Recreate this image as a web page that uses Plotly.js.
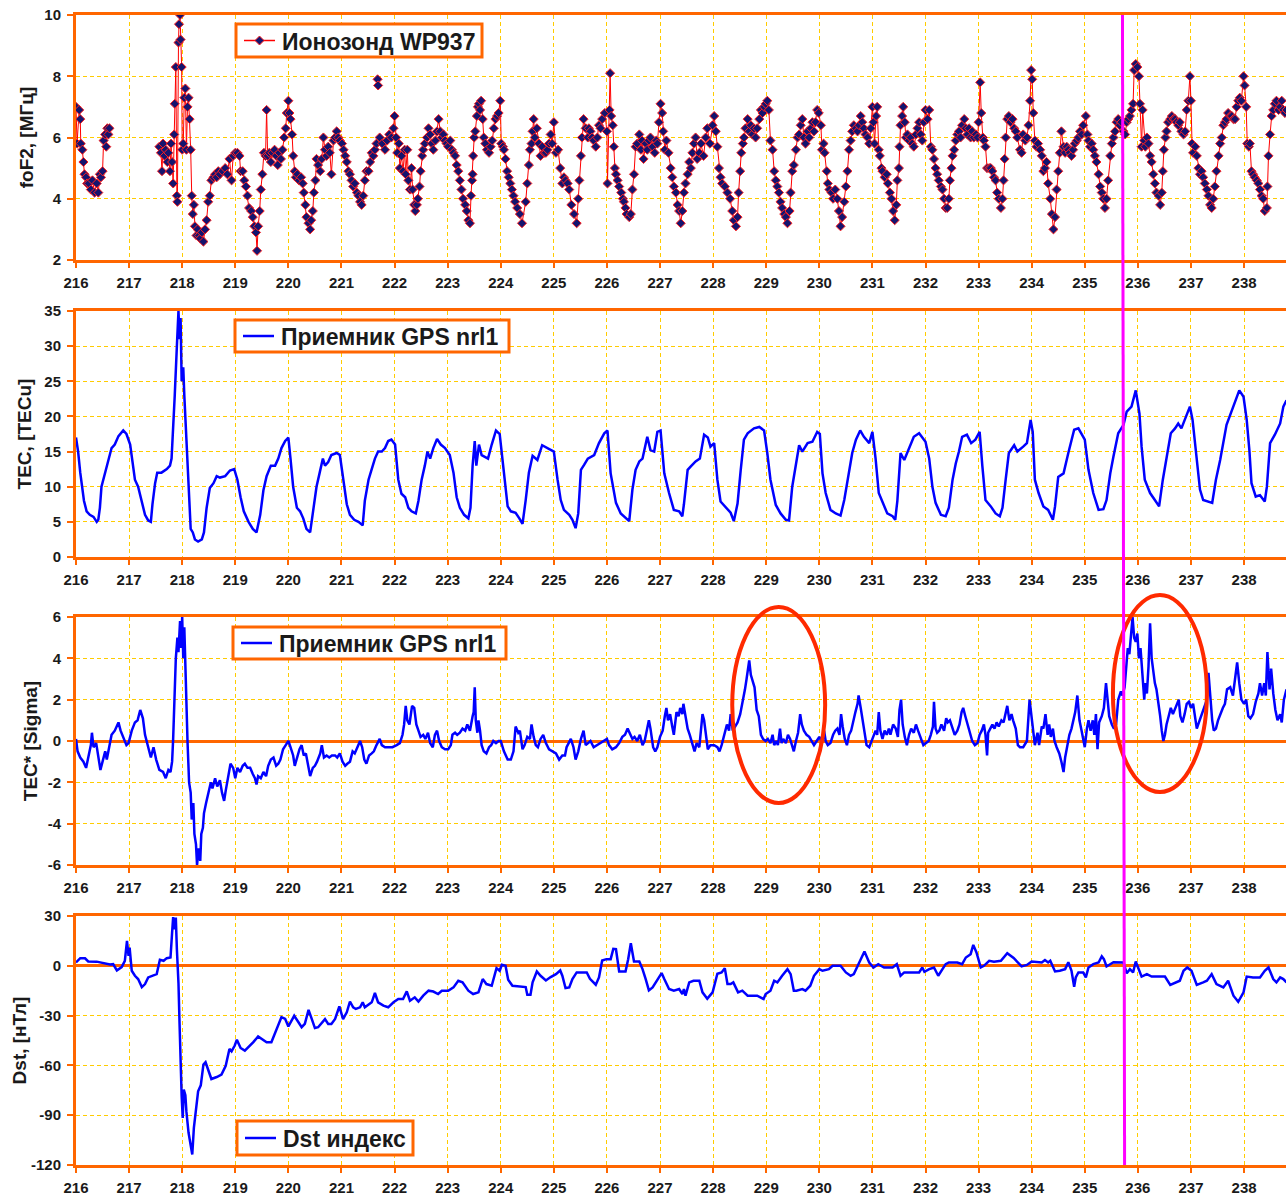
<!DOCTYPE html>
<html>
<head>
<meta charset="utf-8">
<script src="https://cdn.plot.ly/plotly-3.0.1.min.js"></script>
<style>
  html, body { margin: 0; padding: 0; background: #ffffff; }
  #chart { width: 1286px; height: 1197px; }
</style>
</head>
<body>
<div id="chart"></div>
<script>
// Ionosonde WP937 critical frequency foF2 [day of year, MHz]; null breaks the trace at data gaps
const foF2Obs = [
[216.00,7.0],[216.02,5.8],[216.06,6.9],[216.08,6.6],[216.09,5.8],[216.12,5.6],[216.14,5.2],[216.16,4.8],[216.19,4.7],[216.21,4.5],[216.24,4.5],[216.28,4.3],[216.31,4.6],[216.35,4.2],[216.39,4.5],[216.42,4.2],[216.45,4.8],[216.47,4.7],[216.50,4.9],[216.52,5.9],[216.55,6.1],[216.57,5.7],[216.59,6.3],[216.61,6.1],[216.63,6.3],
[217.10,null],
[217.57,5.7],[217.60,5.5],[217.62,4.9],[217.64,5.8],[217.67,5.4],[217.69,5.6],[217.72,5.2],[217.74,5.5],[217.77,4.9],[217.79,5.8],[217.81,5.2],[217.83,4.5],[217.85,6.1],[217.86,7.1],[217.88,8.3],[217.90,4.1],[217.91,3.9],[217.93,9.1],[217.94,9.7],[217.96,10.0],[217.97,9.2],[217.99,8.3],[218.00,5.6],[218.02,5.8],[218.04,7.3],[218.06,7.6],[218.08,5.6],[218.10,7.0],[218.12,7.3],[218.14,6.6],[218.16,5.6],[218.18,4.1],[218.20,3.5],[218.22,3.8],[218.24,3.1],[218.27,2.8],[218.29,3.0],[218.32,2.8],[218.34,2.7],[218.37,2.9],[218.40,2.6],[218.43,3.0],[218.46,3.3],[218.49,3.9],[218.52,4.1],[218.55,4.6],[218.59,4.7],[218.62,4.8],[218.65,4.7],[218.68,4.9],[218.71,4.8],[218.76,4.9],[218.81,5.0],[218.85,4.8],[218.89,5.3],[218.93,4.6],[218.96,5.4],
[219.00,5.5],[219.04,5.5],[219.08,5.4],[219.10,4.9],[219.14,4.9],[219.17,4.6],[219.20,4.4],[219.23,4.1],[219.26,3.7],[219.30,3.6],[219.33,3.4],[219.36,3.1],[219.39,2.9],[219.41,2.3],[219.43,3.1],[219.46,3.6],[219.48,4.3],[219.51,4.8],[219.54,5.5],[219.57,5.4],[219.59,6.9],[219.61,5.4],[219.64,5.5],[219.67,5.2],[219.70,5.5],[219.74,5.6],[219.77,5.4],[219.80,5.1],[219.83,5.5],[219.86,5.3],[219.89,5.6],[219.92,6.0],[219.95,6.3],[219.97,6.8],
[220.00,7.2],[220.02,6.8],[220.04,6.6],[220.07,6.1],[220.09,5.4],[220.12,4.9],[220.14,4.7],[220.17,4.8],[220.20,4.6],[220.24,4.7],[220.27,4.5],[220.29,4.2],[220.32,3.8],[220.34,3.4],[220.38,3.2],[220.41,3.0],[220.43,3.3],[220.46,3.6],[220.48,4.2],[220.51,4.6],[220.53,5.3],[220.56,5.1],[220.60,4.9],[220.63,5.3],[220.66,6.0],[220.69,5.6],[220.72,5.4],[220.75,5.7],[220.78,5.5],[220.81,4.8],[220.85,5.9],[220.88,6.0],[220.91,6.2],[220.94,6.0],[220.97,5.9],
[221.01,5.8],[221.04,5.6],[221.07,5.4],[221.10,5.2],[221.13,4.9],[221.16,4.8],[221.19,4.6],[221.22,4.4],[221.25,4.5],[221.29,4.2],[221.32,4.1],[221.35,3.9],[221.38,3.8],[221.41,4.1],[221.44,4.6],[221.47,4.9],[221.51,4.9],[221.54,5.2],[221.57,5.5],[221.60,5.4],[221.63,5.6],[221.66,5.8],[221.67,null],[221.68,7.9],[221.69,7.7],[221.70,null],[221.72,6.0],[221.77,5.8],[221.82,5.6],[221.86,5.9],[221.90,6.1],[221.94,6.0],[221.98,6.3],
[222.00,6.7],[222.03,6.0],[222.05,5.5],[222.08,5.8],[222.10,5.0],[222.13,5.4],[222.16,4.9],[222.19,5.6],[222.21,4.8],[222.24,5.6],[222.26,4.6],[222.29,4.3],[222.32,5.0],[222.34,4.3],[222.37,3.8],[222.39,3.6],[222.42,3.8],[222.44,4.0],[222.47,4.4],[222.49,4.9],[222.52,5.4],[222.54,5.6],[222.57,5.8],[222.61,6.0],[222.64,6.3],[222.67,6.1],[222.70,5.8],[222.73,5.6],[222.77,5.9],[222.80,6.2],[222.83,6.6],[222.86,6.2],[222.89,6.0],[222.92,6.1],[222.95,5.9],[222.98,5.8],
[223.01,5.7],[223.05,5.9],[223.08,5.6],[223.11,5.5],[223.14,5.4],[223.17,5.1],[223.20,4.9],[223.23,4.6],[223.26,4.3],[223.29,4.0],[223.33,3.8],[223.36,3.6],[223.39,3.3],[223.42,3.2],[223.44,4.1],[223.46,4.6],[223.47,4.8],[223.48,5.4],[223.50,6.0],[223.52,6.2],[223.55,6.7],[223.57,7.0],[223.59,7.1],[223.61,6.9],[223.63,7.2],[223.66,6.6],[223.68,6.0],[223.71,5.8],[223.74,5.6],[223.78,5.5],[223.81,5.7],[223.84,5.9],[223.87,6.3],[223.90,6.6],[223.93,6.7],[223.96,6.8],[223.99,7.2],
[224.01,5.8],[224.04,5.7],[224.06,5.6],[224.09,5.3],[224.12,4.9],[224.15,4.7],[224.18,4.5],[224.21,4.3],[224.24,4.1],[224.27,3.9],[224.31,3.7],[224.36,3.5],[224.40,3.2],[224.47,3.9],[224.50,4.5],[224.53,5.1],[224.55,5.6],[224.58,5.8],[224.60,6.2],[224.62,6.6],[224.64,6.0],[224.68,6.3],[224.72,5.8],[224.75,5.4],[224.78,5.7],[224.82,5.5],[224.85,5.5],[224.88,5.6],[224.91,5.8],[224.94,6.1],[224.97,5.8],
[225.00,6.5],[225.04,5.5],[225.08,5.6],[225.12,5.0],[225.16,4.5],[225.19,4.7],[225.22,4.6],[225.26,4.5],[225.29,4.3],[225.33,3.8],[225.38,3.5],[225.43,3.2],[225.46,4.0],[225.48,4.6],[225.51,5.4],[225.53,6.0],[225.56,6.6],[225.60,6.3],[225.64,6.0],[225.66,6.3],[225.69,6.2],[225.72,6.0],[225.75,5.9],[225.79,5.7],[225.82,6.0],[225.85,6.4],[225.88,6.3],[225.91,6.6],[225.96,6.8],
[226.00,6.2],[226.01,4.5],[226.05,6.9],[226.06,8.1],[226.08,6.7],[226.11,6.4],[226.13,5.7],[226.15,5.0],[226.17,4.8],[226.20,4.6],[226.23,4.4],[226.27,4.2],[226.30,4.0],[226.32,3.9],[226.35,3.7],[226.37,3.5],[226.42,3.4],[226.45,3.5],[226.48,4.3],[226.51,4.8],[226.54,5.7],[226.57,5.8],[226.61,6.1],[226.64,5.6],[226.66,5.9],[226.69,5.3],[226.73,5.8],[226.76,5.6],[226.79,5.9],[226.82,6.0],[226.86,5.7],[226.90,5.5],[226.93,5.9],[226.95,5.8],[226.98,6.5],
[227.01,7.1],[227.04,6.8],[227.06,6.2],[227.09,5.6],[227.12,5.9],[227.16,5.5],[227.20,5.0],[227.23,4.7],[227.26,4.4],[227.30,4.2],[227.33,3.8],[227.36,3.6],[227.39,3.2],[227.42,3.6],[227.45,4.2],[227.48,4.5],[227.52,4.8],[227.55,5.2],[227.58,5.0],[227.61,5.5],[227.64,5.8],[227.67,6.0],[227.70,5.3],[227.74,5.5],[227.77,5.8],[227.82,5.4],[227.86,6.0],[227.89,6.3],[227.94,5.8],[227.99,6.4],
[228.02,6.7],[228.05,6.2],[228.08,5.7],[228.11,5.0],[228.14,4.7],[228.17,4.5],[228.22,4.4],[228.27,4.2],[228.32,4.0],[228.36,3.6],[228.39,3.3],[228.43,3.1],[228.46,3.4],[228.48,4.2],[228.51,4.9],[228.53,5.5],[228.56,5.8],[228.58,6.0],[228.61,6.3],[228.65,6.6],[228.68,6.2],[228.71,6.4],[228.74,6.1],[228.77,6.3],[228.80,6.0],[228.83,6.3],[228.87,6.6],[228.90,6.9],[228.93,6.8],[228.96,7.0],[228.99,7.1],
[229.02,7.2],[229.05,6.9],[229.08,5.9],[229.12,5.6],[229.15,4.9],[229.18,4.6],[229.21,4.4],[229.24,4.2],[229.27,3.9],[229.30,3.7],[229.34,3.5],[229.37,3.4],[229.40,3.2],[229.44,3.6],[229.46,4.2],[229.49,4.9],[229.52,5.1],[229.56,5.6],[229.59,6.0],[229.62,6.1],[229.65,6.4],[229.68,6.6],[229.71,6.0],[229.74,5.8],[229.78,6.2],[229.81,6.0],[229.84,6.3],[229.87,6.5],[229.90,6.2],[229.93,6.5],[229.96,6.9],[229.99,6.8],
[230.03,6.4],[230.05,5.6],[230.08,5.8],[230.10,5.5],[230.14,4.9],[230.16,4.5],[230.19,4.3],[230.23,4.2],[230.26,4.0],[230.30,4.3],[230.34,4.0],[230.37,3.6],[230.40,3.1],[230.43,3.4],[230.47,3.9],[230.50,4.4],[230.53,4.9],[230.56,5.6],[230.59,5.9],[230.62,6.2],[230.65,6.4],[230.69,6.3],[230.72,6.2],[230.75,6.4],[230.78,6.7],[230.81,6.5],[230.84,6.3],[230.87,6.1],[230.91,6.0],[230.94,5.8],[230.97,6.3],
[231.00,7.0],[231.02,6.5],[231.04,5.8],[231.07,6.7],[231.09,7.0],[231.12,5.6],[231.14,5.4],[231.17,5.0],[231.19,4.9],[231.23,4.7],[231.27,4.8],[231.29,4.5],[231.33,4.2],[231.36,4.0],[231.39,3.6],[231.42,3.3],[231.45,3.8],[231.47,4.6],[231.50,5.0],[231.51,5.7],[231.53,6.4],[231.56,6.7],[231.58,7.0],[231.61,6.5],[231.63,6.0],[231.66,6.1],[231.69,5.9],[231.72,6.0],[231.75,5.8],[231.78,5.7],[231.82,6.1],[231.85,6.3],[231.88,6.5],[231.91,6.1],[231.94,5.9],[231.97,6.5],
[232.00,6.9],[232.04,6.6],[232.07,6.9],[232.10,5.7],[232.13,5.6],[232.16,5.3],[232.19,5.0],[232.22,4.8],[232.25,4.6],[232.29,4.4],[232.32,4.3],[232.35,4.0],[232.38,3.7],[232.41,3.7],[232.44,4.0],[232.46,4.6],[232.49,5.0],[232.51,5.4],[232.54,5.6],[232.57,5.9],[232.60,6.1],[232.63,6.2],[232.66,6.0],[232.69,6.4],[232.73,6.6],[232.76,6.3],[232.79,6.1],[232.82,6.3],[232.85,6.0],[232.88,6.2],[232.91,6.0],[232.95,6.1],[232.98,6.0],
[233.00,6.5],[233.03,7.8],[233.05,6.8],[233.08,6.0],[233.10,5.9],[233.13,5.7],[233.16,5.0],[233.20,5.0],[233.23,5.0],[233.26,4.9],[233.29,4.7],[233.32,4.6],[233.35,4.2],[233.38,4.0],[233.42,3.7],[233.45,4.0],[233.47,4.6],[233.49,5.3],[233.51,6.0],[233.54,6.6],[233.57,6.7],[233.60,6.5],[233.64,6.6],[233.67,6.3],[233.70,6.2],[233.73,6.0],[233.78,5.6],[233.81,5.5],[233.84,6.1],[233.88,5.9],[233.91,6.0],[233.94,6.4],[233.97,7.2],[233.99,8.2],
[234.01,7.9],[234.03,6.8],[234.06,5.9],[234.09,5.7],[234.12,5.8],[234.16,5.6],[234.19,5.4],[234.22,4.9],[234.25,5.0],[234.28,5.2],[234.31,4.5],[234.35,4.0],[234.38,3.5],[234.41,3.0],[234.44,3.4],[234.47,4.3],[234.50,4.9],[234.53,5.5],[234.56,6.2],[234.60,5.7],[234.63,5.5],[234.66,5.7],[234.69,5.6],[234.72,5.5],[234.75,5.4],[234.78,5.6],[234.81,5.8],[234.85,5.9],[234.88,6.0],[234.91,6.2],[234.94,6.1],[234.97,6.4],
[235.02,6.7],[235.05,6.1],[235.07,5.9],[235.10,5.7],[235.13,5.8],[235.16,5.6],[235.19,5.4],[235.22,5.2],[235.26,4.8],[235.29,4.4],[235.32,4.2],[235.35,4.0],[235.38,3.7],[235.41,4.0],[235.44,4.6],[235.48,5.4],[235.51,5.8],[235.54,6.0],[235.57,6.2],[235.60,6.5],[235.63,6.6],[235.66,6.4],[235.69,6.5],[235.73,6.2],[235.76,6.1],[235.79,6.5],[235.82,6.6],[235.85,6.7],[235.88,6.9],[235.91,7.1],[235.93,8.2],[235.96,8.4],[235.99,8.3],
[236.02,8.0],[236.04,7.1],[236.07,5.7],[236.09,6.9],[236.12,5.9],[236.14,5.7],[236.17,6.0],[236.20,5.8],[236.23,5.4],[236.26,5.2],[236.29,4.8],[236.32,4.5],[236.35,4.2],[236.39,4.1],[236.42,3.8],[236.45,4.2],[236.47,4.9],[236.49,5.6],[236.52,6.0],[236.54,6.2],[236.57,6.5],[236.61,6.6],[236.64,6.7],[236.67,6.6],[236.70,6.6],[236.73,6.5],[236.76,6.4],[236.79,6.5],[236.82,6.2],[236.86,6.1],[236.89,6.2],[236.92,6.9],[236.95,7.2],[236.98,8.0],
[237.00,7.2],[237.02,5.8],[237.04,5.5],[237.08,5.7],[237.11,5.4],[237.14,5.0],[237.17,4.8],[237.20,4.9],[237.23,4.7],[237.26,4.5],[237.30,4.3],[237.33,4.1],[237.36,3.8],[237.39,3.7],[237.42,4.0],[237.45,4.4],[237.48,4.9],[237.52,5.4],[237.55,5.8],[237.58,6.0],[237.61,6.4],[237.64,6.5],[237.67,6.6],[237.70,6.8],[237.74,6.7],[237.77,6.7],[237.80,6.6],[237.83,6.6],[237.86,7.0],[237.89,7.2],[237.92,7.3],[237.95,7.2],[237.99,8.0],
[238.01,7.7],[238.04,7.0],[238.06,5.8],[238.09,5.7],[238.11,5.8],[238.14,4.9],[238.17,4.8],[238.20,4.7],[238.24,4.6],[238.27,4.5],[238.30,4.3],[238.33,4.1],[238.36,4.0],[238.39,3.6],[238.43,3.7],[238.44,4.4],[238.46,5.4],[238.49,6.1],[238.52,6.7],[238.55,6.9],[238.58,7.1],[238.61,7.2],[238.65,6.9],[238.68,7.0],[238.71,7.2],[238.74,6.9],[238.77,6.8],[238.80,6.9]
];

// GPS receiver nrl1 total electron content [day, TECu]
const tecObs = [
[216.00,17],[216.04,15],[216.08,12],[216.11,10.5],[216.15,8],[216.20,6.5],[216.26,6],[216.33,5.7],[216.39,5],[216.42,5.3],[216.45,7],[216.48,10],[216.55,12],[216.61,13.5],[216.67,15.5],[216.73,16],[216.80,17.2],[216.89,18],[216.95,17.5],
[217.02,16],[217.08,13],[217.11,11],[217.17,10],[217.24,8],[217.30,6],[217.36,5.2],[217.41,5],[217.44,7.5],[217.49,10.5],[217.53,12],[217.61,12],[217.71,12.5],[217.77,13],[217.80,14],[217.83,18],[217.86,23],[217.90,30],[217.93,35],[217.95,31],[217.97,34],[217.99,25],
[218.02,27],[218.04,23],[218.07,18],[218.10,12],[218.13,8],[218.16,4],[218.20,3.5],[218.24,2.5],[218.30,2.2],[218.37,2.5],[218.41,3.5],[218.46,7],[218.52,9.8],[218.59,10.5],[218.65,11.5],[218.71,11.3],[218.81,11.5],[218.90,12.3],[218.98,12.5],
[219.04,11],[219.10,8.5],[219.16,6.5],[219.25,5],[219.33,4],[219.40,3.5],[219.47,6],[219.53,9.5],[219.59,11.5],[219.67,13],[219.75,13],[219.81,14],[219.87,15.5],[219.94,16.5],
[220.00,17],[220.04,14],[220.09,10],[220.16,7],[220.22,6.5],[220.28,5.5],[220.34,4],[220.41,3.5],[220.47,7],[220.53,10],[220.59,12],[220.65,14],[220.69,13],[220.75,13.5],[220.81,14.5],[220.91,14.8],[220.97,14.5],
[221.03,11],[221.10,7.5],[221.16,6],[221.24,5.3],[221.32,5],[221.40,4.5],[221.44,8],[221.51,11],[221.57,12.5],[221.63,14],[221.69,15],[221.76,15],[221.82,15.5],[221.88,16.5],[221.94,16.7],
[222.01,16],[222.07,11],[222.13,9],[222.20,8.5],[222.26,7],[222.32,6.5],[222.40,6.2],[222.45,8],[222.51,11],[222.57,13],[222.62,15],[222.67,14],[222.73,15.5],[222.80,16.8],[222.87,16],[222.95,15.5],
[223.04,14.5],[223.11,12],[223.17,8.5],[223.23,7],[223.31,6],[223.39,5.5],[223.43,7],[223.47,13],[223.51,16.5],[223.54,13],[223.59,16],[223.64,14.5],[223.76,14],[223.83,16],[223.91,18],[223.98,17.5],
[224.06,12],[224.13,7.2],[224.19,6.5],[224.28,6.3],[224.35,5.5],[224.41,4.7],[224.47,8.1],[224.53,12],[224.60,14.4],[224.69,13.8],[224.78,15.9],[224.88,15.5],
[225.00,15],[225.07,11],[225.13,8.1],[225.19,6.7],[225.29,6],[225.35,5.3],[225.41,4.1],[225.46,6.2],[225.51,12.4],[225.57,13.1],[225.64,14],[225.76,14.5],[225.85,16.2],[225.95,17.6],
[226.01,18],[226.07,11.9],[226.17,7.7],[226.26,6.2],[226.35,5.5],[226.42,5.1],[226.48,9.6],[226.54,12.4],[226.61,13.6],[226.67,14],[226.76,17.1],[226.82,15.2],[226.89,15],[226.95,17.8],
[227.01,18],[227.08,11.9],[227.17,9.1],[227.26,6.7],[227.36,6.5],[227.42,5.8],[227.45,7.5],[227.52,12.4],[227.58,12.9],[227.67,13.6],[227.75,14],[227.83,17.4],[227.90,17],[227.95,15.7],
[228.02,16.2],[228.08,11],[228.14,7.9],[228.24,7],[228.33,6.3],[228.39,5.1],[228.46,7.6],[228.52,12.4],[228.58,16.7],[228.65,17.6],[228.77,18.3],[228.87,18.5],[228.96,18],
[229.02,14.8],[229.08,11],[229.18,7.4],[229.27,6.2],[229.37,5.3],[229.43,5.2],[229.49,10],[229.56,13.3],[229.62,15.9],[229.68,15],[229.78,16.2],[229.87,16.4],[229.96,17.8],
[230.01,17.5],[230.06,11.9],[230.12,9.1],[230.21,6.7],[230.31,6.2],[230.40,5.9],[230.47,8.1],[230.53,10.7],[230.62,14.8],[230.69,16.7],[230.77,18],[230.84,17.1],[230.94,16.2],
[231.00,17.8],[231.06,14],[231.12,9.1],[231.19,7.7],[231.28,6.2],[231.38,5.8],[231.43,5.3],[231.47,8],[231.53,14.8],[231.60,13.8],[231.69,15.5],[231.78,17.1],[231.88,17.6],
[232.00,16.4],[232.07,14],[232.13,10],[232.19,7.7],[232.29,6],[232.38,5.8],[232.44,7],[232.51,11],[232.57,13.3],[232.63,15],[232.69,17.1],[232.78,17.4],[232.86,16.2],[232.94,16.7],
[233.02,17.8],[233.07,13],[233.13,8.1],[233.23,7.2],[233.32,6.2],[233.40,5.8],[233.45,7],[233.51,11],[233.57,14.8],[233.67,15.9],[233.73,15],[233.84,15.7],[233.91,16.2],[233.98,19.5],
[234.02,17.8],[234.06,11],[234.13,9.1],[234.22,7.2],[234.31,6.7],[234.40,5.3],[234.44,7.2],[234.50,11.4],[234.60,11.9],[234.69,14.8],[234.80,18.1],[234.88,18.3],
[235.00,16.7],[235.07,12.4],[235.16,9.1],[235.26,6.7],[235.35,6.8],[235.41,8.1],[235.48,11.9],[235.54,14.3],[235.63,17.6],[235.73,18.8],[235.79,20.7],[235.88,21.4],[235.96,23.7],
[236.03,20.4],[236.07,15.7],[236.13,11],[236.23,9.1],[236.32,8.1],[236.40,7.2],[236.47,11],[236.54,14.3],[236.62,17.6],[236.70,18.3],[236.76,19],[236.82,18.3],[236.92,20.2],[236.98,21.4],
[237.03,19.5],[237.11,14.3],[237.17,9.6],[237.23,8.1],[237.33,7.9],[237.40,7.7],[237.47,11],[237.55,13.8],[237.67,18.8],[237.77,20.9],[237.84,22.1],[237.91,23.7],[237.99,22.8],
[238.05,19.5],[238.10,15.2],[238.14,10.5],[238.22,8.6],[238.30,8.8],[238.39,7.9],[238.43,10],[238.49,16.2],[238.58,17.4],[238.68,19],[238.74,21.4],[238.80,22.3]
];

// GPS receiver nrl1 normalised TEC deviation TEC* [day, sigma]
const tecSigmaObs = [
[216.00,0.1],[216.03,-0.5],[216.08,-0.8],[216.14,-1.0],[216.19,-1.3],[216.23,-0.8],[216.28,-0.2],[216.30,0.4],[216.33,-0.3],[216.38,-0.1],[216.42,-0.8],[216.46,-1.4],[216.50,-1.0],[216.55,-0.5],[216.58,-0.9],[216.63,-0.3],[216.67,0.3],[216.73,0.5],[216.80,0.9],[216.84,0.5],[216.89,0.2],[216.95,-0.2],[216.99,-0.1],
[217.05,0.5],[217.11,0.9],[217.16,1.0],[217.21,1.5],[217.26,1.1],[217.30,0.3],[217.36,-0.3],[217.41,-0.8],[217.46,-0.3],[217.51,-0.9],[217.57,-1.4],[217.64,-1.5],[217.69,-1.8],[217.74,-1.4],[217.78,-1.5],[217.81,-1.0],[217.83,0.1],[217.86,2.0],[217.88,4.0],[217.91,5.0],[217.93,4.3],[217.96,5.8],[217.98,4.5],
[218.00,6.0],[218.02,4.0],[218.04,5.5],[218.07,2.5],[218.10,0.0],[218.13,-2.0],[218.16,-2.5],[218.18,-3.8],[218.21,-3.0],[218.23,-4.5],[218.26,-5.0],[218.28,-6.0],[218.31,-5.2],[218.34,-5.8],[218.36,-4.5],[218.39,-4.2],[218.41,-3.5],[218.45,-3.0],[218.49,-2.5],[218.54,-2.0],[218.57,-2.3],[218.62,-1.8],[218.66,-2.2],[218.71,-1.9],[218.75,-2.5],[218.79,-2.9],[218.82,-2.4],[218.87,-1.6],[218.91,-1.1],[218.96,-1.3],
[219.00,-1.8],[219.04,-1.3],[219.09,-1.5],[219.14,-1.2],[219.18,-1.1],[219.23,-1.3],[219.28,-1.3],[219.33,-1.6],[219.37,-1.8],[219.40,-2.1],[219.43,-1.7],[219.48,-1.8],[219.53,-1.5],[219.58,-1.7],[219.62,-1.2],[219.67,-0.9],[219.72,-0.8],[219.77,-1.2],[219.81,-1.1],[219.85,-0.9],[219.90,-0.4],[219.95,-0.2],
[220.00,0.0],[220.04,-0.3],[220.09,-0.7],[220.12,-1.2],[220.16,-0.8],[220.21,-0.4],[220.25,-0.2],[220.29,-0.7],[220.33,-0.6],[220.37,-1.2],[220.41,-1.7],[220.46,-1.3],[220.50,-1.2],[220.54,-1.0],[220.60,-0.6],[220.63,-0.2],[220.67,-0.8],[220.72,-0.7],[220.77,-0.8],[220.82,-0.7],[220.88,-0.7],[220.92,-0.8],[220.97,-0.6],
[221.02,-1.0],[221.07,-1.2],[221.11,-1.1],[221.16,-1.0],[221.21,-0.5],[221.25,-0.6],[221.30,-0.3],[221.35,0.0],[221.39,-0.3],[221.43,-0.9],[221.47,-1.1],[221.52,-0.7],[221.57,-0.6],[221.61,-0.5],[221.66,-0.2],[221.72,0.1],[221.76,-0.2],[221.82,-0.3],[221.88,-0.3],[221.96,-0.3],
[222.04,-0.2],[222.10,-0.1],[222.15,0.3],[222.18,0.8],[222.21,1.7],[222.24,1.0],[222.28,0.8],[222.30,1.3],[222.33,1.7],[222.37,1.6],[222.41,0.8],[222.45,0.5],[222.49,0.2],[222.54,0.3],[222.58,0.1],[222.63,0.4],[222.67,-0.1],[222.72,-0.3],[222.76,0.3],[222.80,0.5],[222.84,0.0],[222.89,-0.3],[222.95,-0.4],
[223.01,-0.4],[223.06,-0.2],[223.09,0.3],[223.14,0.4],[223.18,0.3],[223.23,0.4],[223.28,0.6],[223.33,0.5],[223.37,0.8],[223.42,0.5],[223.47,1.2],[223.49,1.4],[223.51,2.6],[223.53,1.0],[223.56,0.4],[223.58,1.0],[223.61,0.5],[223.64,-0.2],[223.68,-0.5],[223.73,-0.6],[223.78,-0.3],[223.82,-0.2],[223.86,0.0],[223.91,-0.1],[223.96,0.0],
[224.00,0.0],[224.06,-0.5],[224.13,-0.9],[224.19,-0.9],[224.24,-0.5],[224.28,0.7],[224.33,0.4],[224.36,0.5],[224.41,-0.4],[224.45,-0.2],[224.50,0.2],[224.55,0.1],[224.58,0.8],[224.62,0.2],[224.66,-0.2],[224.70,-0.3],[224.75,0.1],[224.80,0.3],[224.85,-0.1],[224.91,-0.4],[224.97,-0.5],
[225.04,-0.6],[225.10,-0.9],[225.16,-0.7],[225.21,-0.7],[225.24,-0.3],[225.32,0.1],[225.37,-0.3],[225.41,-0.9],[225.46,-0.5],[225.51,0.1],[225.56,0.5],[225.60,-0.2],[225.64,-0.1],[225.69,0.0],[225.75,-0.3],[225.81,-0.2],[225.87,-0.1],[225.93,0.0],
[226.00,0.1],[226.04,-0.2],[226.10,-0.4],[226.17,-0.3],[226.23,-0.1],[226.29,0.2],[226.34,0.3],[226.39,0.6],[226.44,0.3],[226.48,0.1],[226.52,0.2],[226.57,0.0],[226.62,0.3],[226.67,-0.2],[226.71,0.0],[226.76,0.6],[226.79,1.0],[226.82,0.6],[226.87,-0.3],[226.91,-0.5],[226.95,-0.3],
[227.00,0.2],[227.05,0.5],[227.09,1.2],[227.12,1.6],[227.15,1.0],[227.19,1.3],[227.23,0.7],[227.26,0.3],[227.31,1.4],[227.35,1.2],[227.38,1.6],[227.42,1.3],[227.44,1.8],[227.48,1.2],[227.52,0.6],[227.56,0.3],[227.61,-0.2],[227.65,-0.5],[227.69,-0.1],[227.74,-0.3],[227.77,0.5],[227.80,1.3],[227.83,1.0],[227.87,0.2],[227.90,-0.4],[227.95,-0.2],
[228.02,-0.2],[228.08,-0.3],[228.12,-0.5],[228.16,-0.2],[228.21,0.3],[228.26,0.8],[228.30,0.5],[228.33,1.3],[228.37,0.5],[228.41,0.7],[228.46,0.9],[228.51,1.3],[228.55,1.8],[228.60,2.5],[228.63,3.0],[228.68,3.9],[228.71,3.2],[228.75,2.8],[228.78,2.6],[228.82,1.5],[228.86,1.2],[228.90,0.3],[228.94,0.1],[228.99,0.0],
[229.03,0.1],[229.08,-0.1],[229.12,0.3],[229.15,-0.2],[229.19,0.0],[229.22,-0.2],[229.26,0.6],[229.29,-0.1],[229.32,0.1],[229.37,-0.1],[229.41,0.3],[229.45,0.1],[229.49,-0.2],[229.52,-0.5],[229.56,0.0],[229.60,0.4],[229.64,1.3],[229.67,0.8],[229.71,0.5],[229.76,0.3],[229.81,0.2],[229.85,0.0],[229.90,-0.2],[229.95,0.0],
[230.00,0.2],[230.04,0.0],[230.09,0.5],[230.12,0.0],[230.16,-0.2],[230.21,-0.1],[230.26,0.3],[230.30,0.5],[230.34,0.6],[230.38,0.3],[230.41,1.3],[230.44,0.7],[230.48,0.1],[230.52,-0.2],[230.56,0.3],[230.60,0.5],[230.64,1.0],[230.68,1.4],[230.72,1.8],[230.74,2.2],[230.78,1.6],[230.82,0.9],[230.85,0.3],[230.89,-0.2],[230.94,-0.3],[230.98,0.0],
[231.02,0.3],[231.06,0.5],[231.09,0.3],[231.12,1.4],[231.15,0.5],[231.19,0.1],[231.23,0.5],[231.27,0.3],[231.31,0.6],[231.34,0.3],[231.39,0.8],[231.44,0.6],[231.48,0.2],[231.51,1.5],[231.54,2.0],[231.57,0.8],[231.61,0.2],[231.65,-0.2],[231.69,0.3],[231.73,0.6],[231.78,0.4],[231.82,0.8],[231.86,0.5],[231.91,0.1],[231.96,-0.2],
[232.01,-0.1],[232.06,0.0],[232.10,0.3],[232.14,0.7],[232.16,1.9],[232.19,0.6],[232.22,0.4],[232.26,0.5],[232.30,0.8],[232.35,0.5],[232.39,1.1],[232.42,0.9],[232.46,1.0],[232.51,0.6],[232.55,0.3],[232.60,0.5],[232.64,0.8],[232.68,1.4],[232.71,1.6],[232.75,1.2],[232.79,0.8],[232.83,0.5],[232.88,0.0],[232.93,-0.2],[232.98,-0.1],
[233.02,0.3],[233.06,0.5],[233.10,0.8],[233.13,0.3],[233.16,-0.7],[233.18,0.4],[233.22,0.6],[233.26,0.8],[233.30,0.6],[233.34,0.9],[233.38,0.7],[233.43,1.0],[233.47,0.9],[233.50,1.2],[233.54,1.7],[233.58,1.0],[233.62,1.3],[233.65,1.0],[233.70,0.6],[233.74,-0.2],[233.78,-0.3],[233.84,-0.3],[233.91,0.0],[233.96,2.0],
[234.00,1.0],[234.03,0.3],[234.06,-0.2],[234.11,0.4],[234.14,-0.2],[234.19,0.7],[234.22,0.6],[234.26,1.3],[234.30,0.3],[234.33,0.8],[234.36,0.2],[234.40,0.6],[234.43,0.0],[234.47,-0.3],[234.52,-0.6],[234.56,-1.0],[234.60,-1.5],[234.63,-0.8],[234.67,-0.2],[234.71,0.3],[234.75,0.6],[234.78,1.0],[234.82,1.4],[234.86,2.2],[234.90,1.0],[234.94,0.5],[234.97,0.0],
[235.00,-0.3],[235.04,0.6],[235.07,1.0],[235.11,0.5],[235.15,1.0],[235.18,0.3],[235.21,1.3],[235.24,-0.4],[235.27,0.9],[235.32,1.2],[235.36,1.6],[235.40,2.8],[235.43,1.8],[235.46,1.2],[235.51,0.8],[235.55,0.6],[235.59,0.8],[235.63,2.0],[235.68,2.4],[235.71,2.2],[235.75,2.6],[235.78,3.5],[235.81,4.5],[235.84,4.2],[235.87,5.3],[235.90,6.0],[235.93,5.0],[235.96,4.8],[235.99,5.2],
[236.02,4.0],[236.05,4.5],[236.08,3.3],[236.12,2.0],[236.14,2.8],[236.17,2.3],[236.20,3.6],[236.23,5.7],[236.26,4.0],[236.29,3.3],[236.32,2.8],[236.35,2.5],[236.38,2.0],[236.42,1.2],[236.45,0.5],[236.48,0.0],[236.51,0.3],[236.54,0.8],[236.58,1.2],[236.62,1.6],[236.66,1.3],[236.69,1.5],[236.73,1.8],[236.77,2.0],[236.80,1.2],[236.84,0.9],[236.88,1.3],[236.92,1.8],[236.96,1.9],
[237.00,1.6],[237.04,1.8],[237.07,1.2],[237.11,0.6],[237.15,0.9],[237.19,1.2],[237.22,1.5],[237.26,1.7],[237.30,2.0],[237.33,3.3],[237.36,2.3],[237.40,1.0],[237.43,0.5],[237.47,0.6],[237.51,1.0],[237.55,1.3],[237.60,1.6],[237.64,1.8],[237.68,2.5],[237.74,2.6],[237.79,2.2],[237.83,3.0],[237.87,3.8],[237.91,2.8],[237.95,2.0],
[238.00,1.8],[238.04,2.0],[238.08,1.2],[238.12,1.1],[238.17,1.3],[238.22,1.9],[238.27,2.3],[238.30,2.8],[238.34,2.2],[238.38,2.8],[238.41,2.2],[238.44,4.3],[238.48,2.5],[238.51,3.5],[238.55,2.3],[238.59,1.5],[238.63,1.0],[238.68,1.3],[238.71,0.9],[238.75,2.0],[238.80,2.5]
];

// Dst geomagnetic index [day, nT]
const dstObs = [
[216.00,2],[216.08,4.6],[216.17,4.5],[216.23,2.6],[216.39,2.5],[216.51,1.8],[216.64,0.8],[216.70,1],[216.77,-2.8],[216.86,-0.8],[216.92,3],[216.96,15],[216.99,6],
[217.01,11],[217.05,-3],[217.11,-6],[217.17,-8],[217.24,-12.8],[217.30,-11],[217.36,-7],[217.46,-6],[217.52,-5],[217.58,3.6],[217.65,3],[217.71,4.6],[217.78,5],[217.81,20],[217.83,29.3],[217.86,22],[217.88,29],[217.90,10],[217.93,-10.4],[217.95,-34.5],[217.97,-59.5],[217.99,-78.6],
[218.01,-91.6],[218.03,-74.6],[218.06,-78],[218.08,-88],[218.12,-100.6],[218.16,-110],[218.19,-113.7],[218.22,-97.6],[218.26,-84.6],[218.30,-75.6],[218.35,-72],[218.40,-59.5],[218.44,-58.1],[218.49,-63],[218.55,-68.2],[218.65,-67],[218.74,-65.5],[218.82,-60.2],[218.89,-50.1],[218.93,-51.5],[218.99,-48],
[219.03,-44.5],[219.10,-49.5],[219.18,-51.1],[219.28,-48],[219.34,-46],[219.43,-42.5],[219.50,-44],[219.59,-46],[219.68,-46],[219.75,-40],[219.81,-36.1],[219.87,-30.9],[219.94,-32],
[220.00,-36.5],[220.06,-33],[220.11,-30.1],[220.19,-34],[220.25,-37],[220.31,-35],[220.38,-26.5],[220.44,-32],[220.50,-37.5],[220.56,-37],[220.63,-34],[220.69,-32.1],[220.75,-35],[220.81,-35],[220.88,-32],[220.96,-24.5],
[221.03,-32.1],[221.10,-28],[221.16,-21.5],[221.22,-25],[221.27,-26],[221.35,-25],[221.40,-22],[221.44,-25],[221.57,-22],[221.63,-16.4],[221.69,-22],[221.79,-24],[221.88,-25],[221.98,-22],
[222.07,-20],[222.16,-20],[222.23,-15.4],[222.29,-21],[222.38,-19],[222.45,-21.5],[222.54,-18],[222.64,-15],[222.73,-15.5],[222.82,-17],[222.89,-15],
[223.01,-15],[223.11,-13],[223.20,-9],[223.28,-10],[223.39,-15],[223.48,-17],[223.58,-16],[223.66,-8],[223.73,-11],[223.83,-12],[223.92,-1.4],[223.98,-3],
[224.02,0.6],[224.09,0],[224.14,-8.4],[224.22,-12],[224.35,-12.4],[224.47,-12.8],[224.50,-17.4],[224.56,-17.4],[224.60,-10],[224.68,-3.4],[224.75,-6],[224.85,-8.8],[224.94,-6.8],
[225.04,-5],[225.12,-2.8],[225.16,-6],[225.22,-13.4],[225.29,-13],[225.35,-8],[225.43,-4],[225.54,-4],[225.62,-4],[225.68,-7.8],[225.79,-11.4],[225.85,-7],[225.91,3.2],[225.99,4],
[226.07,4],[226.12,10.2],[226.17,10],[226.23,-3.4],[226.35,-3.4],[226.40,4],[226.45,13.6],[226.48,8],[226.51,2.6],[226.61,2.6],[226.67,-2],[226.73,-8],[226.79,-14.8],[226.86,-13],[226.95,-8.8],
[227.03,-4.4],[227.08,-8],[227.17,-14],[227.26,-15],[227.36,-14],[227.42,-17],[227.45,-14],[227.48,-18],[227.55,-10],[227.63,-9],[227.74,-9],[227.80,-16],[227.89,-19.8],[227.99,-16],
[228.08,-4.8],[228.16,-4],[228.22,-1.4],[228.27,-11],[228.33,-11],[228.38,-10],[228.47,-16],[228.55,-15],[228.65,-18],[228.83,-18],[228.95,-20],[228.99,-17],
[229.08,-15],[229.15,-9],[229.21,-10],[229.30,-6],[229.40,-2],[229.46,-5],[229.52,-15],[229.57,-15],[229.68,-14],[229.74,-15],[229.83,-12],[229.90,-6],
[230.00,-2],[230.06,-3],[230.18,-2],[230.25,0],[230.40,0],[230.50,-4],[230.59,-6],[230.65,-5],[230.75,2],[230.85,8.6],[230.94,2],
[231.02,-1],[231.11,1],[231.22,-1],[231.38,-1],[231.46,1],[231.53,-6],[231.60,-4],[231.72,-4],[231.88,-4],[231.94,-1],[231.98,-3.6],
[232.07,-2],[232.16,-1],[232.24,-6],[232.32,-2],[232.38,1],[232.44,2],[232.60,2],[232.69,1],[232.76,5],[232.85,7],[232.90,12.6],[232.96,8],
[233.04,-1],[233.10,0],[233.20,3],[233.29,2.5],[233.42,3],[233.54,7.6],[233.66,4.7],[233.81,-0.4],[233.91,0.5],
[234.00,2.6],[234.09,2.5],[234.19,2],[234.25,3.5],[234.31,2],[234.35,3],[234.40,-1],[234.44,-3.4],[234.53,-3],[234.63,-2],[234.69,2.2],[234.75,-3],[234.80,-12.6],[234.83,-7],[234.88,-4],[234.97,-4],
[235.02,-7],[235.07,-1],[235.16,1],[235.26,2],[235.32,5.7],[235.36,4],[235.41,-0.4],[235.54,2.2],[235.73,2],[235.79,-4.5],[235.85,-2],[235.91,-4],[235.96,2.6],
[236.01,-2],[236.07,-6.5],[236.17,-5],[236.26,-6.5],[236.35,-6.5],[236.51,-6.5],[236.61,-11.5],[236.70,-10],[236.79,-9],[236.86,-3],[236.93,-1],
[237.01,-3],[237.11,-11.5],[237.23,-10],[237.30,-9],[237.39,-5],[237.48,-11],[237.61,-13],[237.70,-9],[237.80,-18],[237.89,-21.7],[237.99,-16],
[238.05,-6.5],[238.17,-7],[238.30,-7],[238.39,-3],[238.46,-1],[238.55,-8],[238.61,-10],[238.68,-7],[238.74,-8],[238.80,-10]
];

// Axis tick values and their labels
const foF2Ticks  = [2, 4, 6, 8, 10];
const tecTicks   = [0, 5, 10, 15, 20, 25, 30, 35];
const sigmaTicks = [-6, -4, -2, 0, 2, 4, 6];
const dstTicks   = [-120, -90, -60, -30, 0, 30];

// Series names shown in the legend boxes
const seriesNames = ['Ионозонд WP937', 'Приемник GPS nrl1', 'Приемник GPS nrl1', 'Dst индекс'];
const axisTitles  = ['foF2, [МГц]', 'TEC, [TECu]', 'TEC* [Sigma]', 'Dst, [нТл]'];

// Storm sudden commencement marker (day at top and at bottom of the figure)
const stormLine = [235.71, 235.75];
// Highlighted intervals on the TEC* panel: day span and sigma span
const highlights = [
  { days: [228.36, 230.11], sigma: [-3.0, 6.48] },
  { days: [235.53, 237.30], sigma: [-2.47, 7.06] }
];

const dayRange = [216, 238.79];

const ORANGE = '#FF6600';
const GRID = '#FFCC00';
const BLUE = '#0000FF';
const FONT = 'Liberation Sans, Arial, Helvetica, sans-serif';
const TEXT = '#1a1a1a';

const W = 1286, H = 1197;
const M = { l: 76, r: 0, t: 15, b: 32 };

const col = (arr, i) => arr.map(p => p[i]);
// pixel position on the page -> paper fraction (for legend boxes)
const fx = px => (px - M.l) / (W - M.l - M.r);
const fy = py => (H - M.b - py) / (H - M.t - M.b);

const panels = [
  { domain: [0.78696, 1.0],     range: [2, 10],    ticks: foF2Ticks,  zero: false, standoff: 6 },
  { domain: [0.52870, 0.74261], range: [0, 35],    ticks: tecTicks,   zero: false, standoff: 8 },
  { domain: [0.26087, 0.47652], range: [-6, 6],    ticks: sigmaTicks, zero: true,  standoff: 6 },
  { domain: [0.0,     0.21652], range: [-120, 30], ticks: dstTicks,   zero: true,  standoff: 0 }
];

function xAxis(anchor) {
  return {
    anchor: anchor, range: dayRange, tickmode: 'linear', tick0: 216, dtick: 1,
    showline: true, linecolor: ORANGE, linewidth: 3, mirror: true,
    ticks: 'outside', ticklen: 5, tickwidth: 2, tickcolor: ORANGE,
    showgrid: true, gridcolor: GRID, gridwidth: 1, griddash: '4px,3px',
    zeroline: false, ticklabelstandoff: 2,
    tickfont: { family: FONT, size: 15, color: TEXT, weight: 'bold' },
    fixedrange: true
  };
}

function yAxis(p, i) {
  return {
    domain: p.domain, range: p.range, anchor: i === 0 ? 'x' : 'x' + (i + 1),
    tickmode: 'array', tickvals: p.ticks, ticktext: p.ticks.map(String),
    showline: true, linecolor: ORANGE, linewidth: 3, mirror: false,
    ticks: 'outside', ticklen: 6, tickwidth: 2, tickcolor: ORANGE,
    showgrid: true, gridcolor: GRID, gridwidth: 1, griddash: '4px,3px',
    zeroline: p.zero, zerolinecolor: ORANGE, zerolinewidth: 3,
    ticklabelstandoff: 3,
    tickfont: { family: FONT, size: 15, color: TEXT, weight: 'bold' },
    title: { text: axisTitles[i], standoff: p.standoff,
             font: { family: FONT, size: 19, color: TEXT, weight: 'bold' } },
    fixedrange: true
  };
}

const traces = [
  {
    x: col(foF2Obs, 0), y: col(foF2Obs, 1), xaxis: 'x', yaxis: 'y',
    type: 'scatter', mode: 'lines+markers', name: seriesNames[0],
    line: { color: '#FF0000', width: 1 },
    marker: { symbol: 'diamond', size: 7, color: '#14146e', line: { color: '#FF2020', width: 1 } },
    connectgaps: false
  },
  {
    x: col(tecObs, 0), y: col(tecObs, 1), xaxis: 'x2', yaxis: 'y2',
    type: 'scatter', mode: 'lines', name: seriesNames[1],
    line: { color: BLUE, width: 2.5 }
  },
  {
    x: col(tecSigmaObs, 0), y: col(tecSigmaObs, 1), xaxis: 'x3', yaxis: 'y3',
    type: 'scatter', mode: 'lines', name: seriesNames[2],
    line: { color: BLUE, width: 2.5 }
  },
  {
    x: col(dstObs, 0), y: col(dstObs, 1), xaxis: 'x4', yaxis: 'y4',
    type: 'scatter', mode: 'lines', name: seriesNames[3],
    line: { color: BLUE, width: 2.5 }
  }
];

// Convert a TEC* value into a paper fraction (for the highlight ellipses)
function sigmaToPaper(v) {
  const p = panels[2];
  return p.domain[0] + (v - p.range[0]) / (p.range[1] - p.range[0]) * (p.domain[1] - p.domain[0]);
}

const shapes = highlights.map(h => ({
  type: 'circle', xref: 'x', yref: 'paper',
  x0: h.days[0], x1: h.days[1], y0: sigmaToPaper(h.sigma[0]), y1: sigmaToPaper(h.sigma[1]),
  line: { color: '#FF2A00', width: 4 }, fillcolor: 'rgba(0,0,0,0)', layer: 'above'
}));
shapes.push({
  type: 'line', xref: 'x', yref: 'paper', x0: stormLine[0], x1: stormLine[1], y0: 1, y1: 0,
  line: { color: '#FF00FF', width: 3 }, layer: 'above'
});

// Legend boxes, one per panel: frame, line sample (with diamond for the ionosonde), label
const legendBoxes = [
  { left: 236, top: 24,   right: 482, bottom: 57,   trace: 0 },
  { left: 235, top: 320,  right: 509, bottom: 352,  trace: 1 },
  { left: 233, top: 627,  right: 506, bottom: 659,  trace: 2 },
  { left: 237, top: 1121, right: 413, bottom: 1155, trace: 3 }
];
const annotations = [];
legendBoxes.forEach(b => {
  const tr = traces[b.trace];
  const mid = (b.top + b.bottom) / 2;
  shapes.push({
    type: 'rect', xref: 'paper', yref: 'paper',
    x0: fx(b.left), x1: fx(b.right), y0: fy(b.bottom), y1: fy(b.top),
    line: { color: ORANGE, width: 3 }, fillcolor: '#ffffff', layer: 'above'
  });
  shapes.push({
    type: 'line', xref: 'paper', yref: 'paper',
    x0: fx(b.left + 8), x1: fx(b.left + 39), y0: fy(mid), y1: fy(mid),
    line: { color: tr.line.color, width: b.trace === 0 ? 1.5 : 2.5 }, layer: 'above'
  });
  if (b.trace === 0) {
    const cx = b.left + 23.5, r = 4.5;
    shapes.push({
      type: 'path', xref: 'paper', yref: 'paper', layer: 'above',
      path: `M${fx(cx)},${fy(mid - r)} L${fx(cx + r)},${fy(mid)} L${fx(cx)},${fy(mid + r)} L${fx(cx - r)},${fy(mid)} Z`,
      fillcolor: tr.marker.color, line: { color: tr.marker.line.color, width: 1 }
    });
  }
  annotations.push({
    xref: 'paper', yref: 'paper', x: fx(b.left + 44), y: fy(mid + 1),
    xanchor: 'left', yanchor: 'middle', showarrow: false,
    text: tr.name,
    font: { family: FONT, size: 23, color: TEXT, weight: 'bold' }
  });
});

const layout = {
  width: W, height: H,
  margin: { l: M.l, r: M.r, t: M.t, b: M.b, pad: 0 },
  paper_bgcolor: '#ffffff', plot_bgcolor: '#ffffff',
  font: { family: FONT, color: TEXT },
  hovermode: false,
  showlegend: false,
  xaxis: xAxis('y'), xaxis2: xAxis('y2'), xaxis3: xAxis('y3'), xaxis4: xAxis('y4'),
  yaxis: yAxis(panels[0], 0), yaxis2: yAxis(panels[1], 1),
  yaxis3: yAxis(panels[2], 2), yaxis4: yAxis(panels[3], 3),
  shapes: shapes,
  annotations: annotations
};

Plotly.newPlot('chart', traces, layout, { staticPlot: true, displayModeBar: false });
</script>
</body>
</html>
